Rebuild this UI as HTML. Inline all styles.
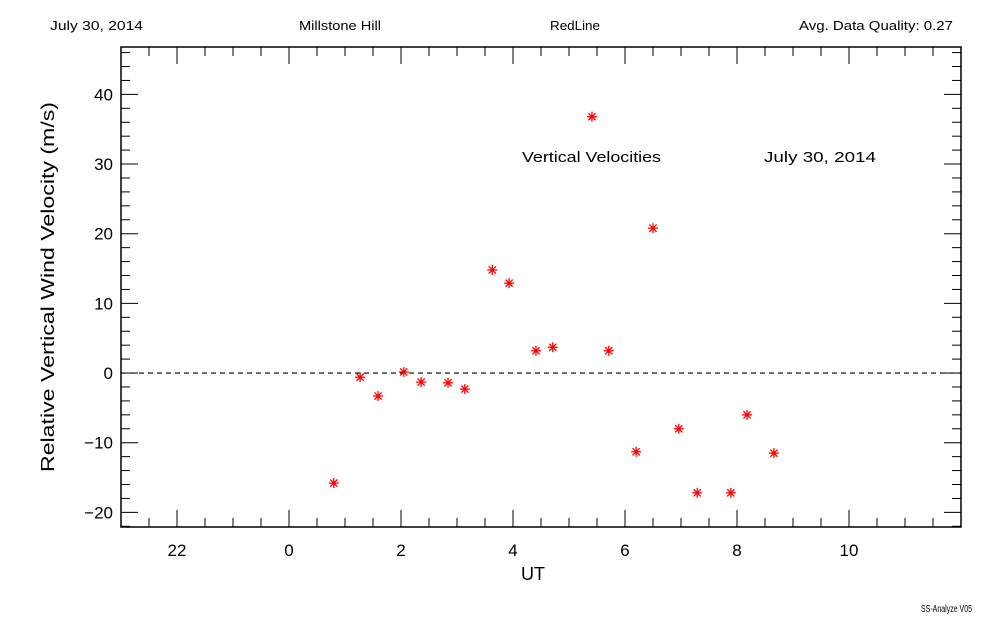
<!DOCTYPE html>
<html><head><meta charset="utf-8"><style>
body{margin:0;background:#fff;}
svg text{font-family:"Liberation Sans",sans-serif;fill:#000;}
</style></head><body>
<svg id="c" width="1000" height="625" xmlns="http://www.w3.org/2000/svg">
<rect width="1000" height="625" fill="#fff"/>
<g font-size="13">
<text x="50" y="30" textLength="93" lengthAdjust="spacingAndGlyphs">July 30, 2014</text>
<text x="299" y="30" textLength="82" lengthAdjust="spacingAndGlyphs">Millstone Hill</text>
<text x="550" y="30" textLength="50" lengthAdjust="spacingAndGlyphs">RedLine</text>
<text x="799" y="30" textLength="154" lengthAdjust="spacingAndGlyphs">Avg. Data Quality: 0.27</text>
</g>
<text x="522" y="162" font-size="15" textLength="139" lengthAdjust="spacingAndGlyphs">Vertical Velocities</text>
<text x="764" y="162" font-size="15" textLength="112" lengthAdjust="spacingAndGlyphs">July 30, 2014</text>
<text x="533" y="580" font-size="18" text-anchor="middle">UT</text>
<text transform="translate(54,287) rotate(-90)" x="-185" font-size="18" textLength="370" lengthAdjust="spacingAndGlyphs">Relative Vertical Wind Velocity (m/s)</text>
<text x="921" y="612" font-size="10" textLength="51" lengthAdjust="spacingAndGlyphs">SS-Analyze V05</text>
<g id="axes"></g>
<g id="marks"></g>
</svg>
<script>
const xs=[0.80,1.27,1.59,2.05,2.36,2.84,3.14,3.63,3.93,4.41,4.71,5.41,5.71,6.20,6.50,6.96,7.29,7.89,8.18,8.66];
const vs=[-15.8,-0.6,-3.3,0.15,-1.3,-1.4,-2.3,14.8,12.9,3.2,3.7,36.8,3.2,-11.3,20.8,-8.0,-17.2,-17.2,-6.0,-11.5];
const xTickVals=[-2,0,2,4,6,8,10];
const xTickLabels=["22","0","2","4","6","8","10"];
const yTickVals=[-20,-10,0,10,20,30,40];
const L=121,R=961,T=47,B=527,X0=-3,X1=12,Y0=-22.1,Y1=46.8;
const sx=v=>L+(v-X0)/(X1-X0)*(R-L);
const sy=v=>B-(v-Y0)/(Y1-Y0)*(B-T);
const NS="http://www.w3.org/2000/svg";
function mk(tag,at,parent){const e=document.createElementNS(NS,tag);for(const k in at)e.setAttribute(k,at[k]);parent.appendChild(e);return e;}
const ax=document.getElementById('axes'),mg=document.getElementById('marks');
const box=mk('rect',{x:L,y:T,width:R-L,height:B-T,fill:'none',stroke:'#000','stroke-width':1.5},ax);

for(let v=-3;v<=12.001;v+=0.5){const x=sx(v),maj=Math.abs(v/2-Math.round(v/2))<1e-6;const len=maj?17:9;
 mk('line',{x1:x,y1:B,x2:x,y2:B-len,stroke:'#000','stroke-width':1},ax);
 mk('line',{x1:x,y1:T,x2:x,y2:T+len,stroke:'#000','stroke-width':1},ax);}
for(let v=-22;v<=46;v+=2){const y=sy(v),maj=v%10===0;const len=maj?17:9;
 mk('line',{x1:L,y1:y,x2:L+len,y2:y,stroke:'#000','stroke-width':1},ax);
 mk('line',{x1:R,y1:y,x2:R-len,y2:y,stroke:'#000','stroke-width':1},ax);}
xTickVals.forEach((v,i)=>{const t=mk('text',{x:sx(v),y:B+29,'font-size':17,'text-anchor':'middle'},ax);t.textContent=xTickLabels[i];
 });
yTickVals.forEach(v=>{const t=mk('text',{x:L-8,y:sy(v)+6,'font-size':17,'text-anchor':'end'},ax);t.textContent=v<0?'\u2212'+(-v):String(v);
 });
const zl=mk('line',{x1:L,y1:sy(0),x2:R,y2:sy(0),stroke:'#000','stroke-width':1.2,'stroke-dasharray':'5,4'},ax);

xs.forEach((xv,i)=>{const x=sx(xv),y=sy(vs[i]),r=5;
 const g=mk('g',{stroke:'#f00','stroke-width':1.3},mg);
 
 mk('line',{x1:x-r,y1:y,x2:x+r,y2:y},g);mk('line',{x1:x,y1:y-r,x2:x,y2:y+r},g);
 mk('line',{x1:x-3.6,y1:y-3.6,x2:x+3.6,y2:y+3.6},g);mk('line',{x1:x-3.6,y1:y+3.6,x2:x+3.6,y2:y-3.6},g);});
</script>
</body></html>
